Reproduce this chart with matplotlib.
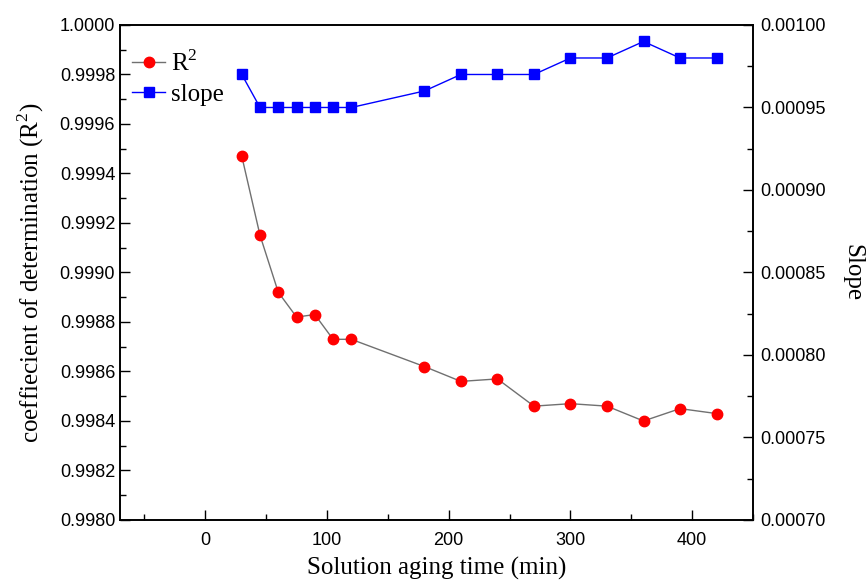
import matplotlib.pyplot as plt
from matplotlib.ticker import MultipleLocator, FormatStrFormatter

time = [30, 45, 60, 75, 90, 105, 120, 180, 210, 240, 270, 300, 330, 360, 390, 420]
r2 = [0.99947, 0.99915, 0.99892, 0.99882, 0.99883, 0.99873, 0.99873, 0.99862,
      0.99856, 0.99857, 0.99846, 0.99847, 0.99846, 0.99840, 0.99845, 0.99843]
slope = [0.00097, 0.00095, 0.00095, 0.00095, 0.00095, 0.00095, 0.00095, 0.00096,
         0.00097, 0.00097, 0.00097, 0.00098, 0.00098, 0.00099, 0.00098, 0.00098]

serif = 'Liberation Serif'
sans = 'Liberation Sans'
plt.rcParams['mathtext.fontset'] = 'custom'
plt.rcParams['mathtext.rm'] = serif

fig = plt.figure(figsize=(8.66, 5.81), dpi=100)
ax = fig.add_axes([0.1386, 0.105, 0.731, 0.852])
ax2 = ax.twinx()

l1, = ax.plot(time, r2, color='#707070', lw=1, marker='o', ms=7.5,
              mfc='red', mec='red', label='R$^2$')
l2, = ax2.plot(time, slope, color='blue', lw=1, marker='s', ms=6.5,
               mfc='blue', mec='blue', label='slope')

ax.set_xlim(-70, 450)
ax.set_ylim(0.9980, 1.0000)
ax2.set_ylim(0.00070, 0.00100)

ax.xaxis.set_major_locator(MultipleLocator(100))
ax.xaxis.set_minor_locator(MultipleLocator(50))
ax.yaxis.set_major_locator(MultipleLocator(0.0002))
ax.yaxis.set_minor_locator(MultipleLocator(0.0001))
ax.yaxis.set_major_formatter(FormatStrFormatter('%.4f'))
ax2.yaxis.set_major_locator(MultipleLocator(0.00005))
ax2.yaxis.set_minor_locator(MultipleLocator(0.000025))
ax2.yaxis.set_major_formatter(FormatStrFormatter('%.5f'))

ax.tick_params(axis='both', which='major', direction='in', length=7, width=1,
               labelsize=13, top=False, right=False)
ax.tick_params(axis='both', which='minor', direction='in', length=4, width=1,
               top=False, right=False)
ax.tick_params(axis='x', which='major', pad=9)
ax2.tick_params(axis='y', which='major', direction='in', length=7, width=1,
                labelsize=13, pad=5)
ax2.tick_params(axis='y', which='minor', direction='in', length=4, width=1)
for a in (ax, ax2):
    for lab in a.get_xticklabels() + a.get_yticklabels():
        lab.set_fontfamily(sans)
    for sp in a.spines.values():
        sp.set_linewidth(1.2)

ax.set_xlabel('Solution aging time (min)', fontsize=18, fontfamily=serif, labelpad=5)
ax.set_ylabel('coeffiecient of determination (R$^2$)', fontsize=18, fontfamily=serif,
              labelpad=10)
ax2.set_ylabel('Slope', fontsize=18, fontfamily=serif, rotation=270, labelpad=27)

ax.legend([l1, l2], ['R$^2$', 'slope'], loc='upper left', bbox_to_anchor=(-0.02, 1),
          frameon=False, prop={'family': serif, 'size': 18}, handlelength=1.3,
          handletextpad=0.25, borderaxespad=0.7, labelspacing=0.3, borderpad=0.3)

fig.savefig('out.png', dpi=100)
